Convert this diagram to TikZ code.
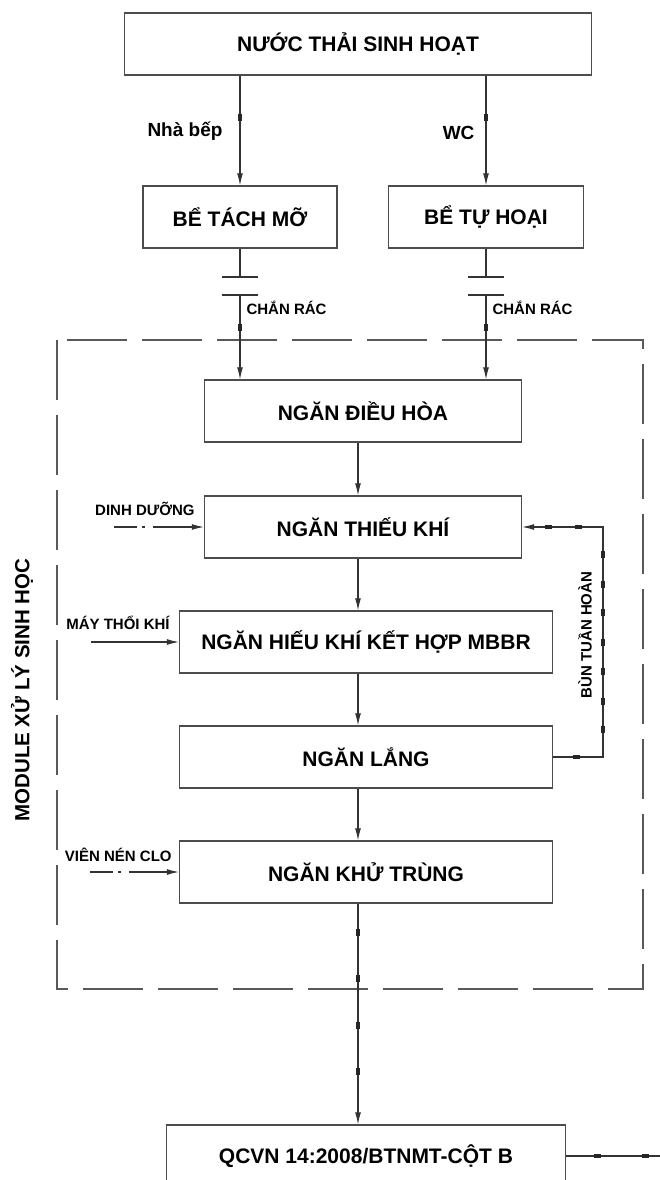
\documentclass[tikz,border=0pt]{standalone}
\usepackage{fontspec}
\setmainfont{Liberation Sans}
\usetikzlibrary{shapes, arrows.meta, positioning, calc}

\begin{document}
\begin{tikzpicture}[x=1pt, y=-1pt,
    box/.style={draw=black!70, line width=1.3pt, minimum height=62pt,
                align=center, font=\fontsize{21}{24}\selectfont\bfseries},
    pipe/.style={draw=black!80, line width=1.1pt},
    flow/.style={pipe, -{Latex[length=12pt, width=6pt]}},
    feed/.style={flow, dash pattern=on 23pt off 5pt on 3pt off 8pt on 80pt off 1pt},
    tick/.style={fill=black!85, inner sep=0pt, minimum width=7pt,
                 minimum height=4pt, sloped},
    sidelabel/.style={inner sep=1pt, font=\fontsize{15}{17}\selectfont\bfseries},
    branchlabel/.style={inner sep=1pt, font=\fontsize{19}{22}\selectfont\bfseries},
    modulebox/.style={draw=black!65, line width=1.3pt, dash pattern=on 60pt off 15pt}]

  \useasboundingbox (0,0) rectangle (659,1180);

  % nguon va xu ly so bo
  \node[box, minimum width=467pt] (nuocthai) at (358,44) {NƯỚC THẢI SINH HOẠT};
  \node[box, minimum width=194pt] (tachmo) at (240,217) {BỂ TÁCH MỠ};
  \node[box, minimum width=195pt] (tuhoai) at (486,217) {BỂ TỰ HOẠI};

  % module xu ly sinh hoc
  \draw[modulebox] (57,340) rectangle (643,989);
  \node[font=\fontsize{20.5}{24}\selectfont\bfseries, rotate=90] (module) at (22,690)
    {MODULE XỬ LÝ SINH HỌC};

  \node[box, minimum width=317pt] (dieuhoa) at (363,411) {NGĂN ĐIỀU HÒA};
  \node[box, minimum width=317pt] (thieukhi) at (363,527) {NGĂN THIẾU KHÍ};
  \node[box, minimum width=373pt] (hieukhi) at (366,642) {NGĂN HIẾU KHÍ KẾT HỢP MBBR};
  \node[box, minimum width=373pt] (lang) at (366,757) {NGĂN LẮNG};
  \node[box, minimum width=373pt] (khutrung) at (366,872) {NGĂN KHỬ TRÙNG};
  \node[box, minimum width=399pt] (qcvn) at (366,1156) {QCVN 14:2008/BTNMT-CỘT B};

  \coordinate (truc) at (358,0);
  \coordinate (bunx) at (603,0);
  \coordinate (xa) at (670,0);

  % nha bep va wc
  \draw[flow] (nuocthai.south -| tachmo) --
    node[tick, pos=0.38]{} node[branchlabel, pos=0.51, left=16pt]{Nhà bếp} (tachmo.north);
  \draw[flow] (nuocthai.south -| tuhoai) --
    node[tick, pos=0.38]{} node[branchlabel, pos=0.52, left=10pt]{WC} (tuhoai.north);

  % chan rac
  \coordinate (chan1a) at (240,277);
  \coordinate (chan1b) at (240,295);
  \coordinate (chan2a) at (486,277);
  \coordinate (chan2b) at (486,295);
  \draw[pipe] (tachmo.south) -- (chan1a);
  \draw[pipe] ([xshift=-18pt]chan1a) -- ([xshift=18pt]chan1a);
  \draw[pipe] ([xshift=-18pt]chan1b) -- ([xshift=18pt]chan1b);
  \draw[flow] (chan1b) -- node[sidelabel, pos=0.15, right=5pt]{CHẮN RÁC}
    node[tick, pos=0.38]{} (chan1b |- dieuhoa.north);
  \draw[pipe] (tuhoai.south) -- (chan2a);
  \draw[pipe] ([xshift=-18pt]chan2a) -- ([xshift=18pt]chan2a);
  \draw[pipe] ([xshift=-18pt]chan2b) -- ([xshift=18pt]chan2b);
  \draw[flow] (chan2b) -- node[sidelabel, pos=0.15, right=5pt]{CHẮN RÁC}
    node[tick, pos=0.38]{} (chan2b |- dieuhoa.north);

  % duong chinh
  \draw[flow] (dieuhoa.south -| truc) -- (thieukhi.north -| truc);
  \draw[flow] (thieukhi.south -| truc) -- (hieukhi.north -| truc);
  \draw[flow] (hieukhi.south -| truc) -- (lang.north -| truc);
  \draw[flow] (lang.south -| truc) -- (khutrung.north -| truc);
  \draw[flow] (khutrung.south -| truc) -- node[tick, pos=0.13]{} node[tick, pos=0.34]{}
    node[tick, pos=0.55]{} node[tick, pos=0.76]{} (qcvn.north -| truc);
  \draw[pipe] (qcvn.east) -- node[tick, pos=0.3]{} node[tick, pos=0.76]{} (qcvn.east -| xa);

  % hoa chat va khi
  \coordinate[left=90pt of thieukhi.west] (dd);
  \coordinate[left=88pt of hieukhi.west] (mt);
  \coordinate[left=89pt of khutrung.west] (vn);
  \node[sidelabel, anchor=east] (dinhduong) at ([xshift=-8pt, yshift=18pt]thieukhi.west) {DINH DƯỠNG};
  \node[sidelabel, anchor=east] (maythoi) at ([xshift=-8pt, yshift=19pt]hieukhi.west) {MÁY THỔI KHÍ};
  \node[sidelabel, anchor=east] (vienclo) at ([xshift=-6pt, yshift=17pt]khutrung.west) {VIÊN NÉN CLO};
  \draw[feed] (dd) -- (thieukhi.west);
  \draw[flow] (mt) -- (hieukhi.west);
  \draw[feed] (vn) -- (khutrung.west);

  % bun tuan hoan
  \draw[flow] (lang.east) -- node[tick, pos=0.47]{} (lang.east -| bunx)
    -- node[tick, pos=0.12]{} node[tick, pos=0.24]{} node[tick, pos=0.37]{}
       node[tick, pos=0.5]{} node[tick, pos=0.63]{} node[tick, pos=0.75]{}
       node[tick, pos=0.88]{} (thieukhi.east -| bunx)
    -- node[tick, pos=0.3]{} node[tick, pos=0.67]{} (thieukhi.east);
  \node[sidelabel, rotate=90] (buntuanhoan) at (585,635) {BÙN TUẦN HOÀN};
\end{tikzpicture}
\end{document}
